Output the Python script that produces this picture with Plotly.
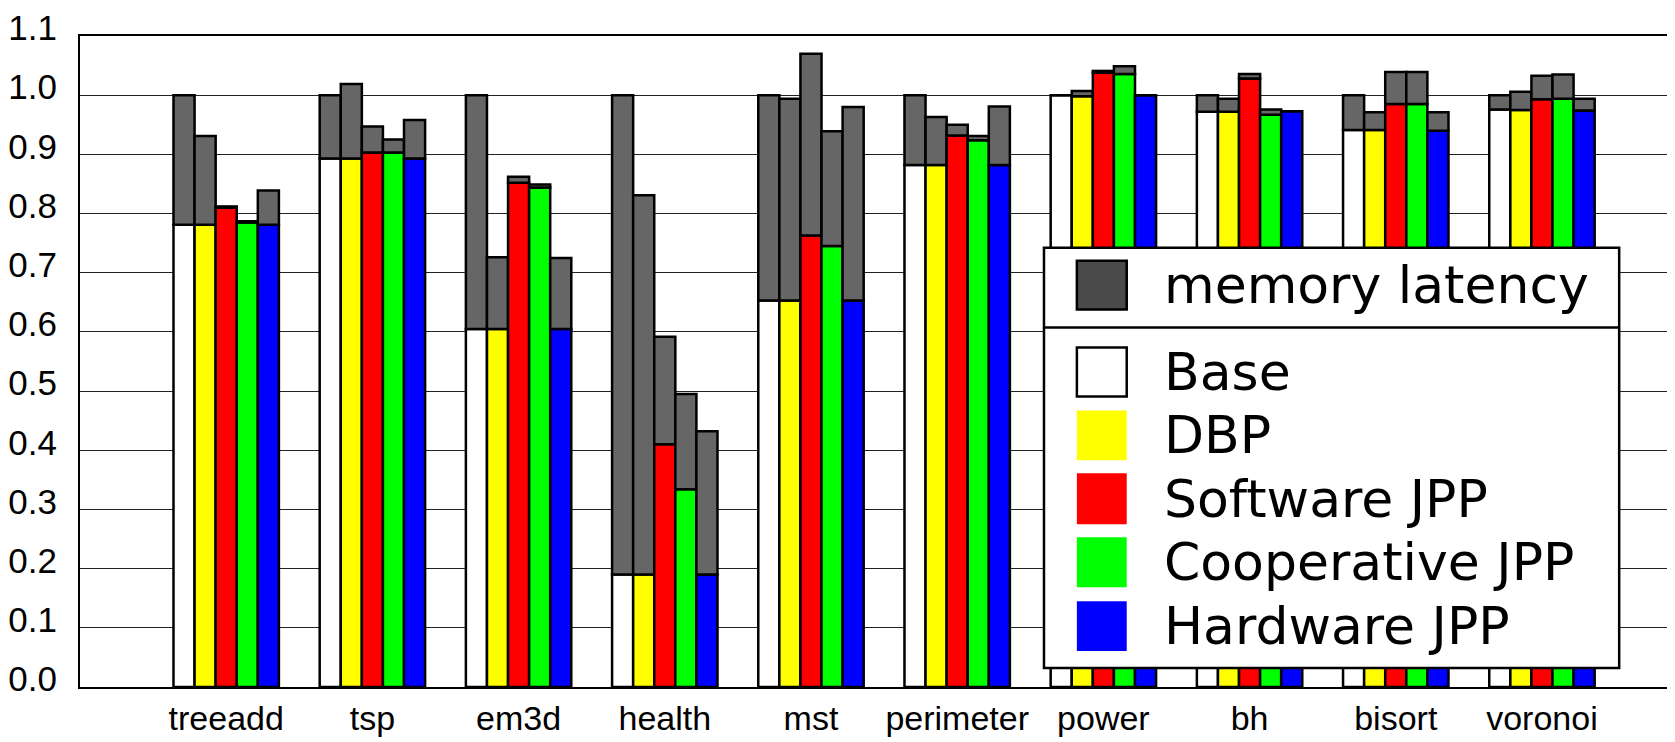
import plotly.graph_objects as go

# ---------------- data ----------------
categories = ["treeadd", "tsp", "em3d", "health", "mst",
              "perimeter", "power", "bh", "bisort", "voronoi"]

series_names = ["Base", "DBP", "Software JPP", "Cooperative JPP", "Hardware JPP"]

# computation part (coloured) of the normalised execution time
base_compute = [0.781, 0.893, 0.605, 0.190, 0.653, 0.882, 1.000, 0.972, 0.941, 0.976]
dbp_compute  = [0.781, 0.893, 0.605, 0.190, 0.653, 0.882, 0.998, 0.972, 0.941, 0.975]
sw_compute   = [0.810, 0.903, 0.852, 0.410, 0.763, 0.932, 1.038, 1.028, 0.985, 0.993]
coop_compute = [0.785, 0.903, 0.844, 0.334, 0.745, 0.924, 1.036, 0.967, 0.985, 0.994]
hw_compute   = [0.781, 0.893, 0.605, 0.190, 0.653, 0.882, 1.000, 0.973, 0.940, 0.974]

# total normalised execution time (compute + memory latency)
base_total = [1.000, 1.000, 1.000, 1.000, 1.000, 1.000, 1.000, 1.000, 1.000, 1.000]
dbp_total  = [0.931, 1.019, 0.726, 0.831, 0.994, 0.963, 1.007, 0.994, 0.971, 1.006]
sw_total   = [0.812, 0.947, 0.862, 0.592, 1.070, 0.950, 1.041, 1.036, 1.039, 1.033]
coop_total = [0.787, 0.925, 0.849, 0.495, 0.939, 0.931, 1.049, 0.976, 1.039, 1.035]
hw_total   = [0.839, 0.958, 0.725, 0.432, 0.980, 0.981, 1.000, 0.973, 0.971, 0.994]

y_ticks = [0.0, 0.1, 0.2, 0.3, 0.4, 0.5, 0.6, 0.7, 0.8, 0.9, 1.0, 1.1]

memory_label = "memory latency"

# ---------------- style ----------------
series_colors = ["#ffffff", "#ffff00", "#ff0000", "#00ff00", "#0000ff"]
mem_color = "#666666"
legend_mem_color = "#4a4a4a"

# the page body has an 8px margin; compensate so the plot lands where intended
OFF = 8
W, H = 1675 - OFF, 742 - OFF
ML, MR, MT, MB = 75 - OFF, 0, 35 - OFF, 55
PW, PH = W - ML - MR, H - MT - MB

def px(x):  # screen pixel -> paper
    return (x - OFF - ML) / PW

def py(y):
    return (H - MB - (y - OFF)) / PH

compute_sets = [base_compute, dbp_compute, sw_compute, coop_compute, hw_compute]
total_sets = [base_total, dbp_total, sw_total, coop_total, hw_total]

fig = go.Figure()
for j, (name, comp, tot, col) in enumerate(zip(series_names, compute_sets, total_sets, series_colors)):
    fig.add_trace(go.Bar(
        x=categories, y=comp, name=name, offsetgroup=str(j),
        marker=dict(color=col, line=dict(color="black", width=2.5)),
        showlegend=False,
    ))
    fig.add_trace(go.Bar(
        x=categories, y=[t - c for t, c in zip(tot, comp)], base=comp,
        name=memory_label, offsetgroup=str(j),
        marker=dict(color=mem_color, line=dict(color="black", width=2.5)),
        showlegend=False,
    ))

tick_font = dict(family="Liberation Sans Narrow, Arial Narrow, Liberation Sans, Arial, sans-serif",
                 size=35, color="black")

fig.update_layout(
    width=W, height=H,
    margin=dict(l=ML, r=MR, t=MT, b=MB),
    paper_bgcolor="white", plot_bgcolor="white",
    barmode="group", bargap=0.279, bargroupgap=0.0,
    showlegend=False,
    xaxis=dict(
        range=[-1.0, 9.91], showgrid=False, showline=True, linecolor="black",
        linewidth=2, mirror=True, ticks="", tickfont=dict(tick_font, size=34),
        ticklabelstandoff=0,
    ),
    yaxis=dict(
        range=[0, 1.1], tickvals=y_ticks, tickformat=".1f", showgrid=True,
        gridcolor="#222222", gridwidth=1, showline=True, linecolor="black",
        linewidth=2, ticks="", tickfont=tick_font, zeroline=False,
        ticklabelstandoff=14, ticklabelshift=-8, ticklabeloverflow="allow",
    ),
)

# ---------------- hand-drawn legend ----------------
shapes = []
shapes.append(dict(type="rect", xref="paper", yref="paper",
                   x0=px(1042), x1=px(1619), y0=py(668), y1=py(247),
                   fillcolor="white", line=dict(color="black", width=2.5), layer="above"))
shapes.append(dict(type="line", xref="paper", yref="paper",
                   x0=px(1042), x1=px(1619), y0=py(327), y1=py(327),
                   line=dict(color="black", width=2.5), layer="above"))

rows = [(memory_label, legend_mem_color, 260, 309, True),
        (series_names[0], series_colors[0], 347, 396, True),
        (series_names[1], series_colors[1], 410, 460, False),
        (series_names[2], series_colors[2], 473, 524, False),
        (series_names[3], series_colors[3], 537, 587, False),
        (series_names[4], series_colors[4], 601, 651, False)]

annotations = []
for label, col, y0, y1, border in rows:
    shapes.append(dict(type="rect", xref="paper", yref="paper",
                       x0=px(1075), x1=px(1125), y0=py(y1), y1=py(y0),
                       fillcolor=col,
                       line=dict(color="black" if border else col, width=2.5 if border else 0),
                       layer="above"))
    annotations.append(dict(xref="paper", yref="paper", x=px(1160), y=py((y0 + y1) / 2),
                            xanchor="left", yanchor="middle", showarrow=False,
                            text=label,
                            font=dict(family="DejaVu Sans", size=52, color="black")))

fig.update_layout(shapes=shapes, annotations=annotations)

fig.write_html("out.html")
